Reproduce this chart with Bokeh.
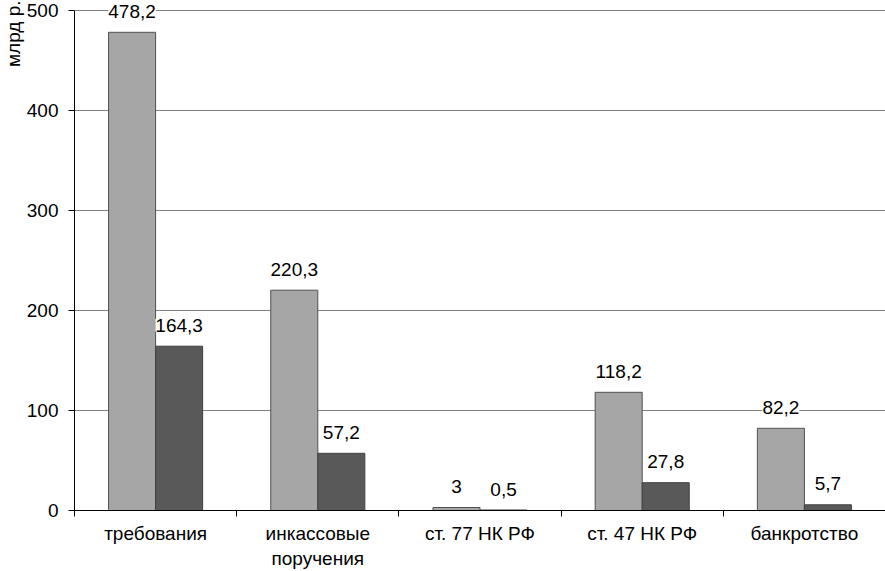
import math
from bokeh.plotting import figure
from bokeh.models import ColumnDataSource, LabelSet, Title, FixedTicker
from bokeh.core.properties import value
from bokeh.embed import file_html
from bokeh.resources import INLINE

categories = ["требования", "инкассовые\nпоручения", "ст. 77 НК РФ", "ст. 47 НК РФ", "банкротство"]
series_a = [478.2, 220.3, 3, 118.2, 82.2]
series_b = [164.3, 57.2, 0.5, 27.8, 5.7]
labels_a = ["478,2", "220,3", "3", "118,2", "82,2"]
labels_b = ["164,3", "57,2", "0,5", "27,8", "5,7"]
y_ticks = [0, 100, 200, 300, 400, 500]

FONT = "Liberation Sans"
xs = list(range(1, len(categories) + 1))
off = 0.145
bw = 0.29

src_a = ColumnDataSource(dict(x=[x - off for x in xs], top=series_a, lab=labels_a))
src_b = ColumnDataSource(dict(x=[x + off for x in xs], top=series_b, lab=labels_b))

p = figure(width=885, height=571, x_range=(0.5, len(categories) + 0.5), y_range=(0, 510),
           output_backend="svg", toolbar_location=None,
           min_border_left=74, min_border_right=0, min_border_top=0, min_border_bottom=60)
p.outline_line_color = None
p.background_fill_color = "white"

p.vbar(x="x", top="top", width=bw, source=src_a, fill_color="#a6a6a6", line_color="#505050", line_width=1)
p.vbar(x="x", top="top", width=bw, source=src_b, fill_color="#595959", line_color="#404040", line_width=1)

for src in (src_a, src_b):
    ls = LabelSet(x="x", y="top", text="lab", source=src, text_align="center", text_baseline="middle",
                  y_offset=21, text_font=value(FONT), text_font_size=value("19px"), text_color="black",
                  background_fill_color="white")
    p.add_layout(ls)

p.xgrid.grid_line_color = None
p.ygrid.grid_line_color = "#808080"
p.ygrid.grid_line_width = 1
p.ygrid.ticker = FixedTicker(ticks=y_ticks)

p.yaxis.ticker = FixedTicker(ticks=y_ticks)
p.yaxis.bounds = (0, 500)
p.yaxis.axis_line_color = "black"
p.yaxis.major_tick_line_color = "black"
p.yaxis.major_tick_in = 0
p.yaxis.major_tick_out = 6
p.yaxis.minor_tick_line_color = None
p.yaxis.major_label_text_font = FONT
p.yaxis.major_label_text_font_size = "19px"
p.yaxis.major_label_text_color = "black"
p.yaxis.major_label_standoff = 10

p.xaxis.ticker = FixedTicker(ticks=xs, minor_ticks=[x - 0.5 for x in xs] + [len(xs) + 0.5])
p.xaxis.major_label_overrides = {x: c for x, c in zip(xs, categories)}
p.xaxis.axis_line_color = "black"
p.xaxis.major_tick_line_color = None
p.xaxis.minor_tick_line_color = "black"
p.xaxis.minor_tick_in = 0
p.xaxis.minor_tick_out = 6
p.xaxis.major_label_text_font = FONT
p.xaxis.major_label_text_font_size = "19px"
p.xaxis.major_label_text_color = "black"
p.xaxis.major_label_standoff = 6

p.add_layout(Title(text="млрд р.", align="right", text_font=FONT, text_font_size="19px",
                   text_font_style="normal", text_color="black", standoff=0, offset=0), "left")

open("out.html", "w").write(file_html(p, INLINE))
